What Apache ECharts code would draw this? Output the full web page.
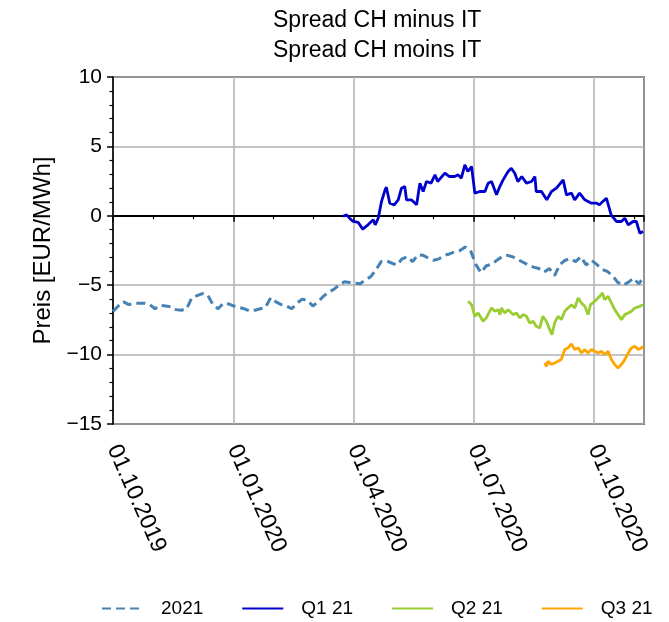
<!DOCTYPE html>
<html>
<head>
    <meta charset="utf-8">
    <title>Spread CH minus IT</title>
    <script src="https://cdn.jsdelivr.net/npm/echarts@6/dist/echarts.min.js"></script>
    <style>
        html, body { margin: 0; padding: 0; background: #fff; }
        #main { width: 669px; height: 622px; }
    </style>
</head>
<body>
<div id="main"></div>
<script type="text/javascript">
    // x = days since 01.10.2019
    var xTickLabels = ['01.10.2019', '01.01.2020', '01.04.2020', '01.07.2020', '01.10.2020'];
    var seriesNames = ['2021', 'Q1 21', 'Q2 21', 'Q3 21'];
    var colors = ['#4682b4', '#0000cd', '#9acd32', '#ffa500'];

    // 2021: one value every 4 days from day 0
    var step2021 = 4;
    var vals2021 = [
        -6.9, -6.5, -6.2, -6.4, -6.3, -6.3, -6.3, -6.4, -6.7, -6.45,
        -6.5, -6.55, -6.76, -6.8, -6.7, -5.9, -5.75, -5.6, -5.7, -6.4,
        -6.7, -6.3, -6.35, -6.5, -6.6, -6.7, -6.85, -6.8, -6.7, -6.6,
        -5.9, -6.2, -6.4, -6.5, -6.7, -6.3, -6.0, -6.1, -6.5, -6.2,
        -5.8, -5.5, -5.3, -5.0, -4.75, -4.8, -4.85, -4.9, -4.6, -4.4,
        -3.9, -3.3, -3.25, -3.4, -3.55, -3.1, -2.95, -3.3, -2.8, -2.85,
        -3.05, -3.2, -3.1, -2.85, -2.75, -2.6, -2.5, -2.25, -2.5, -3.5,
        -4.1, -3.6, -3.5, -3.2, -2.95, -2.85, -2.95, -3.15, -3.35, -3.55,
        -3.7, -3.8, -4.05, -3.8, -4.3, -3.5, -3.2, -3.1, -3.3, -2.95,
        -3.55, -3.2, -3.5, -3.85, -4.0, -4.3, -4.8, -5.0, -4.8, -4.5,
        -4.9, -4.4
    ];

    var daysQ1 = [175, 177.7, 180, 182.7, 186.6, 190, 194, 198, 199.5, 201.8,
        204.3, 207, 208, 210.6, 214, 217, 219.5, 222, 223.3, 227,
        231, 233.5, 236, 238.5, 242, 245, 247, 252.5, 256, 260,
        262.6, 265, 267.7, 270, 272.8, 275.3, 279, 283, 285.4, 288,
        291.8, 294.3, 296.8, 300.6, 303, 305.7, 308, 311, 314.6, 318.4,
        321, 322, 326, 330, 333.6, 337.4, 342.5, 345, 348.8, 351.3,
        355, 359, 364, 368, 370, 375.4, 379, 383, 386.8, 389.4,
        392, 395.7, 398.2, 400.8, 403.3];
    var valsQ1 = [-0.03, 0.07, -0.17, -0.41, -0.48, -0.96, -0.65, -0.29, -0.65, -0.17,
        1.03, 1.87, 2.06, 0.91, 0.79, 1.15, 1.99, 2.11, 1.15, 1.15,
        0.79, 2.35, 1.75, 2.47, 2.35, 2.95, 2.47, 3.07, 2.83, 2.83,
        2.95, 2.71, 3.67, 3.19, 3.55, 1.63, 1.75, 1.75, 2.35, 2.47,
        1.51, 2.11, 2.59, 3.19, 3.43, 3.07, 2.47, 2.83, 2.35, 2.47,
        2.83, 1.75, 1.75, 1.15, 1.75, 1.99, 2.59, 1.51, 1.63, 1.15,
        1.63, 1.15, 0.91, 0.91, 0.79, 1.27, 0.07, -0.41, -0.41, -0.17,
        -0.65, -0.41, -0.41, -1.25, -1.13];

    var daysQ2 = [270.2, 272.8, 275.3, 277.8, 281.6, 284, 288, 290.5, 293, 294.3,
        295.6, 298, 300.6, 304.4, 307, 309.5, 312, 314.6, 317, 319.6,
        322, 324.7, 327, 329.7, 332.3, 334, 336, 338.6, 341.2, 343.7,
        346.2, 348.8, 351.3, 353.9, 356.4, 359, 361.4, 363.3, 366.5, 370.3,
        372.4, 374, 376.7, 379.2, 381.7, 384.3, 386.8, 389.4, 392, 394.4,
        397, 400.8, 403.3];
    var valsQ2 = [-6.16, -6.4, -7.24, -7.0, -7.6, -7.36, -6.64, -6.88, -6.76, -7.12,
        -6.64, -7.0, -6.76, -7.12, -7.0, -7.36, -7.12, -7.24, -7.72, -7.6,
        -7.96, -8.08, -7.24, -7.6, -8.2, -8.56, -7.72, -7.24, -7.48, -6.88,
        -6.64, -6.4, -6.64, -5.92, -6.28, -6.52, -7.12, -6.4, -6.16, -5.8,
        -5.56, -6.04, -5.8, -6.28, -6.76, -7.12, -7.48, -7.12, -7.0, -6.88,
        -6.64, -6.52, -6.4];

    var daysQ3 = [328.5, 329.8, 331, 333.6, 336, 338.6, 341, 343.7, 346.2, 348.8,
        351.3, 354, 356.4, 359, 361.4, 364, 366.5, 369, 371.6, 374,
        376.7, 379.2, 381.7, 384.3, 386.8, 389.4, 392, 394.4, 397, 399.6,
        402, 403.3];
    var valsQ3 = [-10.6, -10.84, -10.48, -10.72, -10.6, -10.48, -10.36, -9.64, -9.52, -9.23,
        -9.64, -9.52, -9.88, -9.64, -9.88, -9.64, -9.76, -9.88, -9.76, -10.0,
        -9.76, -10.36, -10.72, -10.96, -10.72, -10.36, -9.88, -9.52, -9.4, -9.64,
        -9.52, -9.4];

    function pairs(xs, ys) {
        return ys.map(function (v, i) { return [xs[i], v]; });
    }
    var data2021 = vals2021.map(function (v, i) { return [i * step2021, v]; });

    var font = 'Liberation Sans, Arial, sans-serif';
    var myChart = echarts.init(document.getElementById('main'));

    var option = {
        animation: false,
        backgroundColor: '#fff',
        title: {
            text: 'Spread CH minus IT\nSpread CH moins IT',
            left: 268,
            top: 1,
            textStyle: { fontFamily: font, fontSize: 23, fontWeight: 'normal', color: '#000', lineHeight: 30 }
        },
        legend: {
            left: 101,
            top: 599,
            width: 620,
            padding: 0,
            itemWidth: 41,
            itemHeight: 12,
            itemGap: 38,
            itemStyle: { opacity: 0 },
            data: seriesNames,
            textStyle: { fontFamily: font, fontSize: 19, color: '#000', padding: [0, 0, 0, 13] }
        },
        grid: {
            left: 113,
            right: 25,
            top: 77,
            bottom: 198,
            show: true,
            borderColor: '#000',
            borderWidth: 1.5
        },
        xAxis: {
            type: 'value',
            min: 0,
            max: 404,
            interval: 91.5,
            axisLine: { lineStyle: { color: '#000', width: 1.5 } },
            axisTick: { length: 6, lineStyle: { color: '#000', width: 1.5 } },
            minorTick: { show: true, splitNumber: 3, length: 3.5, lineStyle: { color: '#000', width: 1.2 } },
            splitLine: { show: true, lineStyle: { color: '#b0b0b0', width: 1.5 } },
            axisLabel: {
                rotate: -66,
                margin: 22,
                showMaxLabel: false,
                fontFamily: font,
                fontSize: 23,
                color: '#000',
                formatter: function (v) {
                    var k = v / 91.5;
                    return Math.abs(k - Math.round(k)) < 1e-6 ? (xTickLabels[Math.round(k)] || '') : '';
                }
            }
        },
        yAxis: {
            type: 'value',
            min: -15,
            max: 10,
            interval: 5,
            name: 'Preis [EUR/MWh]',
            nameLocation: 'middle',
            nameGap: 58,
            nameTextStyle: { fontFamily: font, fontSize: 24, color: '#000' },
            axisLine: { show: true, lineStyle: { color: '#000', width: 1.5 } },
            axisTick: { show: true, length: 6, lineStyle: { color: '#000', width: 1.5 } },
            minorTick: { show: true, splitNumber: 5, length: 3.5, lineStyle: { color: '#000', width: 1.2 } },
            splitLine: { show: true, lineStyle: { color: '#b0b0b0', width: 1.5 } },
            axisLabel: {
                margin: 11,
                fontFamily: font,
                fontSize: 21,
                color: '#000',
                formatter: function (v) { return v < 0 ? '\u2212' + Math.abs(v) : String(v); }
            }
        },
        series: [
            {
                name: seriesNames[0],
                type: 'line',
                showSymbol: false,
                symbol: 'none',
                color: colors[0],
                lineStyle: { color: colors[0], width: 3, type: [9, 5] },
                data: data2021,
                markLine: {
                    silent: true,
                    symbol: 'none',
                    label: { show: false },
                    lineStyle: { color: '#000', width: 2, type: 'solid' },
                    data: [{ yAxis: 0 }],
                    z: 1
                },
                z: 3
            },
            {
                name: seriesNames[1],
                type: 'line',
                showSymbol: false,
                symbol: 'none',
                color: colors[1],
                lineStyle: { color: colors[1], width: 2.8 },
                data: pairs(daysQ1, valsQ1),
                z: 4
            },
            {
                name: seriesNames[2],
                type: 'line',
                showSymbol: false,
                symbol: 'none',
                color: colors[2],
                lineStyle: { color: colors[2], width: 2.8 },
                data: pairs(daysQ2, valsQ2),
                z: 4
            },
            {
                name: seriesNames[3],
                type: 'line',
                showSymbol: false,
                symbol: 'none',
                color: colors[3],
                lineStyle: { color: colors[3], width: 2.8 },
                data: pairs(daysQ3, valsQ3),
                z: 4
            }
        ]
    };
    myChart.setOption(option);
</script>
</body>
</html>
